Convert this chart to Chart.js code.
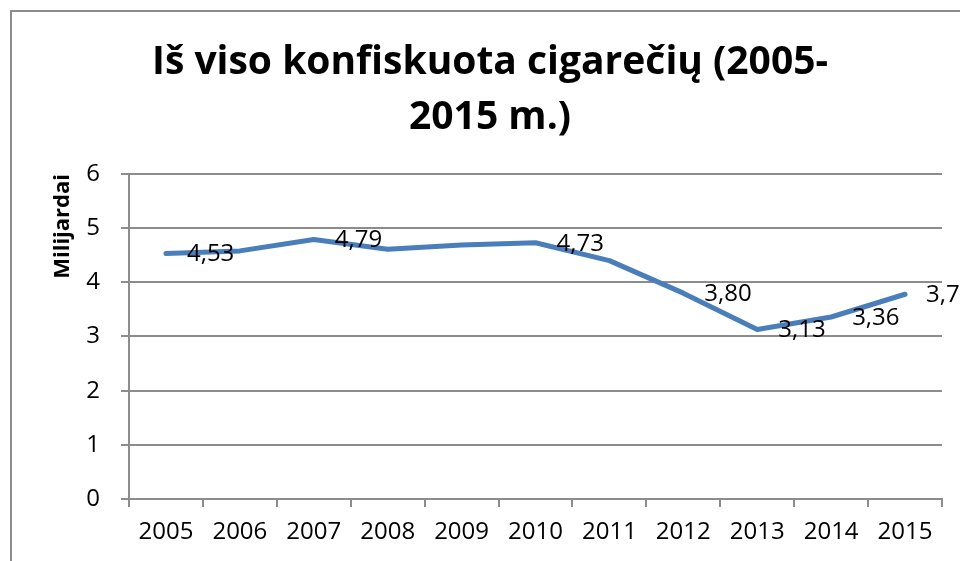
<!DOCTYPE html>
<html>
<head>
<meta charset="utf-8">
<script src="https://cdn.jsdelivr.net/npm/chart.js@4/dist/chart.umd.min.js"></script>
<style>
    html, body { margin: 0; padding: 0; background: #fff; overflow: hidden; }
    #wrap { width: 960px; height: 561px; }
</style>
</head>
<body>
<div id="wrap"><canvas id="seizureChart" width="960" height="561"></canvas></div>
<script>
// values (billions of cigarettes)
const years = ['2005', '2006', '2007', '2008', '2009', '2010', '2011', '2012', '2013', '2014', '2015'];
const seizedBillions = [4.53, 4.58, 4.79, 4.61, 4.69, 4.73, 4.40, 3.80, 3.13, 3.36, 3.78];
const pointLabels = ['4,53', '', '4,79', '', '', '4,73', '', '3,80', '3,13', '3,36', '3,78'];
const yTicks = [0, 1, 2, 3, 4, 5, 6];
const titleLines = ['Iš viso konfiskuota cigarečių (2005-', '2015 m.)'];
const yTitle = 'Milijardai';

const GRID = '#8c8c8c';
const FONT = '"Open Sans", Lato, sans-serif';

// outer frame of the chart object, runs off the right/bottom edge like the original
const framePlugin = {
    id: 'frame',
    beforeDraw(chart) {
        const ctx = chart.ctx;
        ctx.save();
        ctx.fillStyle = '#fff';
        ctx.fillRect(0, 0, chart.width, chart.height);
        ctx.strokeStyle = GRID;
        ctx.lineWidth = 2;
        ctx.strokeRect(11, 11, 1200, 1200);
        ctx.restore();
    }
};

// the value labels sit to the right of their points
const valueLabels = {
    id: 'valueLabels',
    afterDatasetsDraw(chart) {
        const ctx = chart.ctx;
        const meta = chart.getDatasetMeta(0);
        ctx.save();
        ctx.font = '24px ' + FONT;
        ctx.fillStyle = '#000';
        ctx.textAlign = 'left';
        ctx.textBaseline = 'middle';
        meta.data.forEach((pt, i) => {
            if (!pointLabels[i]) return;
            ctx.fillText(pointLabels[i], pt.x + 21, pt.y + 1);
        });
        ctx.restore();
    }
};

new Chart(document.getElementById('seizureChart'), {
    type: 'line',
    data: {
        labels: years,
        datasets: [{
            data: seizedBillions,
            borderColor: '#4a7ebb',
            borderWidth: 5,
            borderCapStyle: 'round',
            borderJoinStyle: 'round',
            pointRadius: 0,
            tension: 0,
            fill: false
        }]
    },
    options: {
        responsive: false,
        animation: false,
        devicePixelRatio: 1,
        layout: { padding: { left: 38, right: 18, top: 0, bottom: 0 } },
        plugins: {
            legend: { display: false },
            tooltip: { enabled: false },
            title: {
                display: true,
                text: titleLines,
                color: '#000',
                font: { family: FONT, size: 39, weight: 'bold', lineHeight: 1.41 },
                padding: { top: 35, bottom: 29 }
            }
        },
        scales: {
            x: {
                offset: true,
                grid: { offset: true, drawOnChartArea: false, drawTicks: true, tickLength: 8, color: GRID, lineWidth: 2 },
                border: { display: true, color: GRID, width: 2 },
                ticks: { color: '#000', font: { family: FONT, size: 24 }, padding: 11, maxRotation: 0, autoSkip: false },
                afterFit(s) { s.height = 62; }
            },
            y: {
                min: yTicks[0],
                max: yTicks[yTicks.length - 1],
                grid: { color: GRID, lineWidth: 2, drawTicks: true, tickLength: 8 },
                border: { display: true, color: GRID, width: 2 },
                ticks: { stepSize: 1, color: '#000', font: { family: FONT, size: 24 }, padding: 21 },
                title: {
                    display: true,
                    text: yTitle,
                    align: 'end',
                    color: '#000',
                    font: { family: FONT, size: 22, weight: 'bold' },
                    padding: { top: 12, bottom: 0 }
                },
                afterFit(s) { s.width = 91; }
            }
        }
    },
    plugins: [framePlugin, valueLabels]
});
</script>
</body>
</html>
